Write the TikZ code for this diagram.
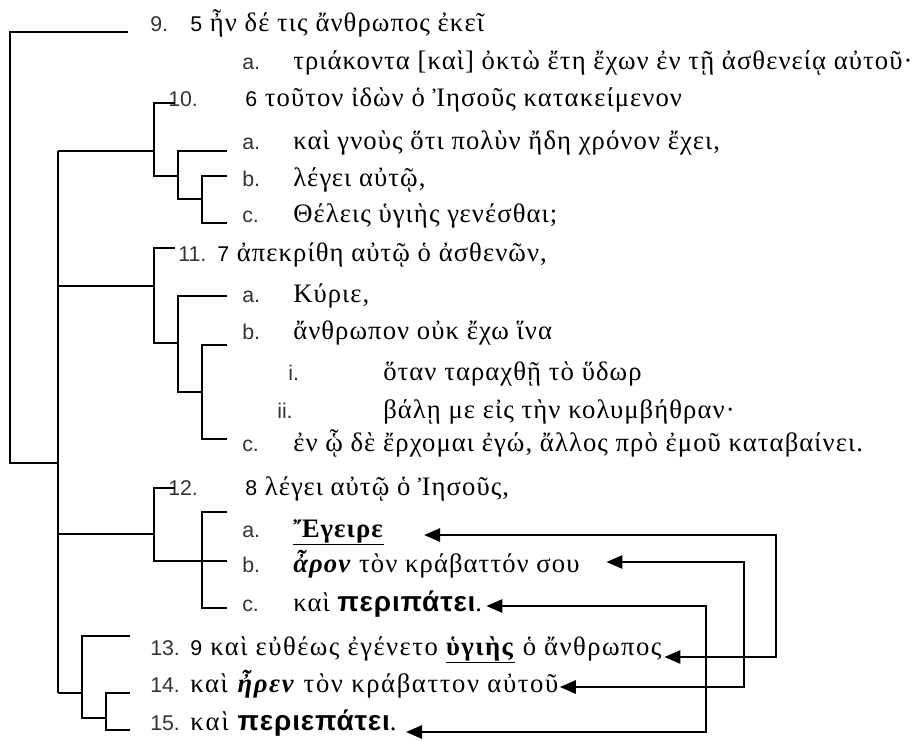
\documentclass[tikz,border=0pt]{standalone}
\usepackage{fontspec}
\setmainfont{Liberation Serif}[LetterSpace=4]
\newfontfamily\labf{Liberation Sans}
\newfontfamily\bsf{Liberation Sans}[LetterSpace=3]
\usetikzlibrary{arrows.meta}
\newcommand\vn[1]{{\labf\fontsize{16}{19}\selectfont #1}}
\newcommand\bsans[1]{{\bsf\bfseries\fontsize{21}{24}\selectfont #1}}
\tikzset{
  tree/.style={line width=1.4pt},
  lab/.style={anchor=base west, inner sep=0pt, text=black!80, font=\labf\fontsize{16}{19}\selectfont},
  gk/.style={anchor=base west, inner sep=0pt, font=\fontsize{20}{24}\selectfont},
  link/.style={line width=1.4pt, {Triangle[length=12pt,width=10pt]}-{Triangle[length=12pt,width=10pt]}},
}
\begin{document}
\begin{tikzpicture}[x=0.75pt,y=-0.75pt]
\useasboundingbox (0,0) rectangle (922,740);
% labels and texts
\node[lab] (l9) at (150,31) {9.};
\node[gk] (t9) at (190,31) {\vn{5} ἦν δέ τις ἄνθρωπος ἐκεῖ};
\node[lab] (l9a) at (242,69) {a.};
\node[gk] (t9a) at (293,69) {τριάκοντα [καὶ] ὀκτὼ ἔτη ἔχων ἐν τῇ ἀσθενείᾳ αὐτοῦ·};
\node[lab] (l10) at (168,106) {10.};
\node[gk] (t10) at (245,106) {\vn{6} τοῦτον ἰδὼν ὁ Ἰησοῦς κατακείμενον};
\node[lab] (l10a) at (242,149) {a.};
\node[gk] (t10a) at (293,149) {καὶ γνοὺς ὅτι πολὺν ἤδη χρόνον ἔχει,};
\node[lab] (l10b) at (242,186) {b.};
\node[gk] (t10b) at (293,186) {λέγει αὐτῷ,};
\node[lab] (l10c) at (242,222) {c.};
\node[gk] (t10c) at (293,222) {Θέλεις ὑγιὴς γενέσθαι;};
\node[lab] (l11) at (178,261) {11.};
\node[gk] (t11) at (217,261) {\vn{7} ἀπεκρίθη αὐτῷ ὁ ἀσθενῶν,};
\node[lab] (l11a) at (242,302) {a.};
\node[gk] (t11a) at (293,302) {Κύριε,};
\node[lab] (l11b) at (242,339) {b.};
\node[gk] (t11b) at (293,339) {ἄνθρωπον οὐκ ἔχω ἵνα};
\node[lab] (l11i) at (288,380) {i.};
\node[gk] (t11i) at (383,380) {ὅταν ταραχθῇ τὸ ὕδωρ};
\node[lab] (l11ii) at (277,418) {ii.};
\node[gk] (t11ii) at (383,418) {βάλῃ με εἰς τὴν κολυμβήθραν·};
\node[lab] (l11c) at (242,451) {c.};
\node[gk] (t11c) at (293,451) {ἐν ᾧ δὲ ἔρχομαι ἐγώ, ἄλλος πρὸ ἐμοῦ καταβαίνει.};
\node[lab] (l12) at (168,495) {12.};
\node[gk] (t12) at (245,495) {\vn{8} λέγει αὐτῷ ὁ Ἰησοῦς,};
\node[lab] (l12a) at (242,537) {a.};
\node[gk] (t12a) at (293,537) {\underline{\textbf{Ἔγειρε}}};
\node[lab] (l12b) at (242,572) {b.};
\node[gk] (t12b) at (293,572) {\textbf{\textit{ἆρον}} τὸν κράβαττόν σου};
\node[lab] (l12c) at (242,611) {c.};
\node[gk] (t12c) at (293,611) {καὶ \bsans{περιπάτει}.};
\node[lab] (l13) at (150,655) {13.};
\node[gk] (t13) at (190,655) {\addfontfeature{LetterSpace=5.5}\vn{9} καὶ εὐθέως ἐγένετο \underline{\textbf{ὑγιὴς}} ὁ ἄνθρωπος};
\node[lab] (l14) at (150,692) {14.};
\node[gk] (t14) at (190,692) {\addfontfeature{LetterSpace=6}καὶ \textbf{\textit{ἦρεν}} τὸν κράβαττον αὐτοῦ};
\node[lab] (l15) at (150,730) {15.};
\node[gk] (t15) at (190,730) {\addfontfeature{LetterSpace=8}καὶ \bsans{περιεπάτει}.};
% tree
\draw[tree] (128,32) -- (10,32) -- (10,463) -- (58,463);
\draw[tree] (58,151) -- (58,693);
\draw[tree] (58,151) -- (154,151);
\draw[tree] (175,103) -- (154,103) -- (154,176) -- (178,176);
\draw[tree] (227,151) -- (178,151) -- (178,199) -- (202,199);
\draw[tree] (227,176) -- (202,176) -- (202,223) -- (227,223);
\draw[tree] (58,286) -- (154,286);
\draw[tree] (175,248) -- (154,248) -- (154,343) -- (178,343);
\draw[tree] (227,296) -- (178,296) -- (178,392) -- (202,392);
\draw[tree] (227,345) -- (202,345) -- (202,439) -- (227,439);
\draw[tree] (58,534) -- (154,534);
\draw[tree] (175,488) -- (154,488) -- (154,561) -- (227,561);
\draw[tree] (227,512) -- (202,512) -- (202,608) -- (227,608);
\draw[tree] (58,693) -- (82,693);
\draw[tree] (130,636) -- (82,636) -- (82,718) -- (106,718);
\draw[tree] (130,693) -- (106,693) -- (106,730) -- (130,730);
% arrows
\coordinate (e12a) at ([xshift=30pt]t12a.east);
\coordinate (e12b) at ([xshift=20pt]t12b.east);
\coordinate (e12c) at ([xshift=3pt]t12c.east);
\coordinate (e13) at ([xshift=2pt]t13.east);
\coordinate (e14) at ([xshift=1pt]t14.east);
\coordinate (e15) at ([xshift=7pt]t15.east);
\coordinate (r1a) at (776,535); \coordinate (r1b) at (776,657);
\coordinate (r2a) at (744,562); \coordinate (r2b) at (744,687);
\coordinate (r3a) at (706,606); \coordinate (r3b) at (706,732);
\draw[link] (e12a |- r1a) -- (r1a) -- (r1b) -- (e13 |- r1b);
\draw[link] (e12b |- r2a) -- (r2a) -- (r2b) -- (e14 |- r2b);
\draw[link] (e12c |- r3a) -- (r3a) -- (r3b) -- (e15 |- r3b);
\end{tikzpicture}
\end{document}
